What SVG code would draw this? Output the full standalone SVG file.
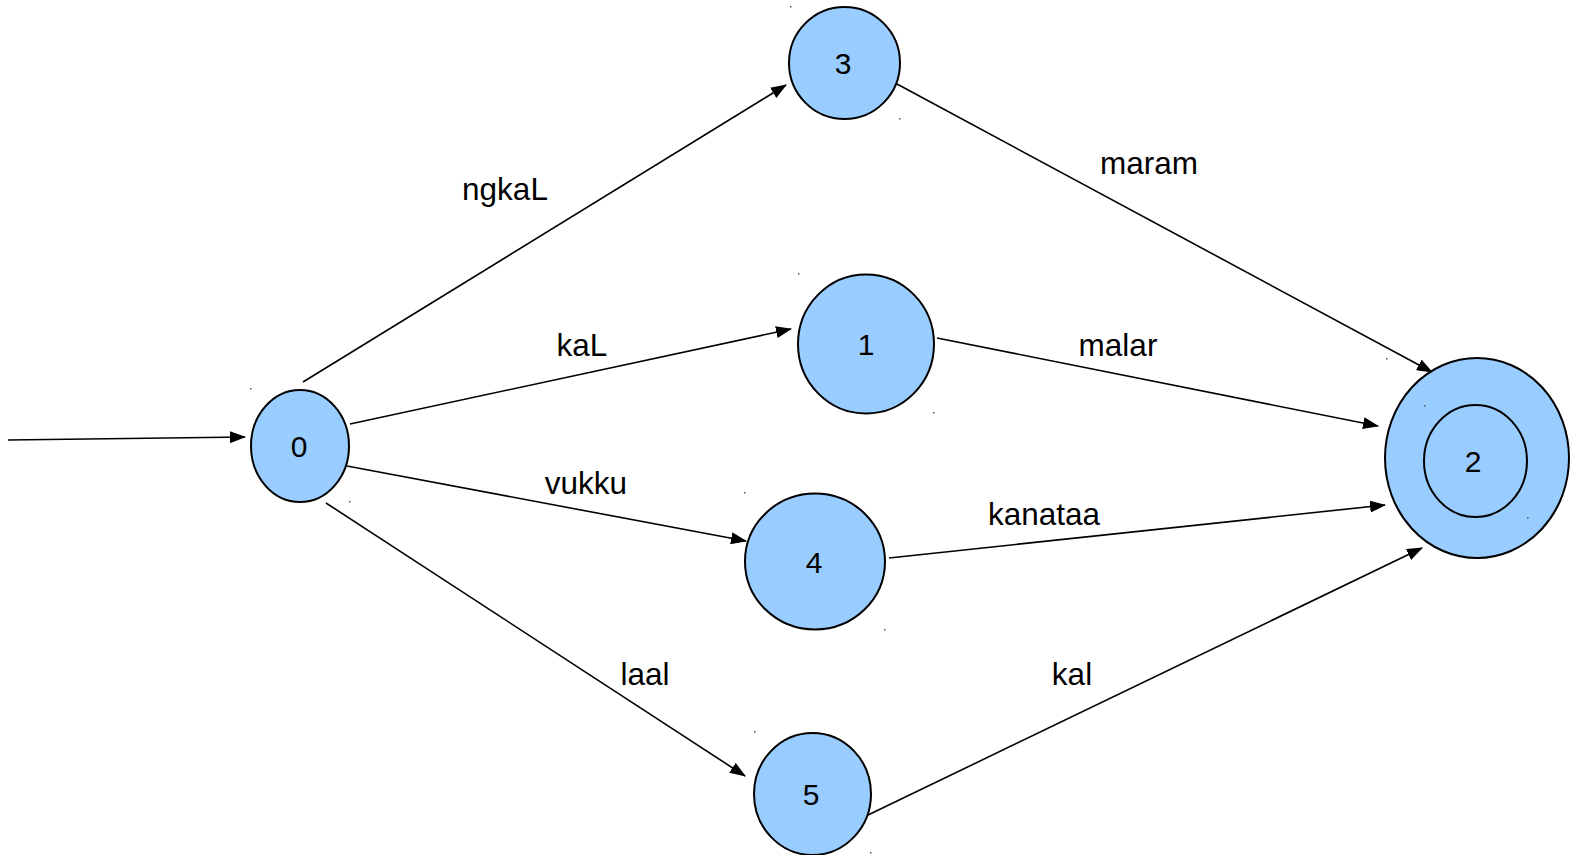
<svg xmlns="http://www.w3.org/2000/svg" width="1571" height="855" viewBox="0 0 1571 855">
<style>
.st{fill:#99ccff;stroke:#000;stroke-width:2}
.in{fill:none;stroke:#000;stroke-width:2}
.e{stroke:#000;stroke-width:1.6;fill:none;marker-end:url(#ah)}
.t{font-family:"Liberation Sans",Arial,sans-serif;font-size:30px;fill:#000;text-anchor:middle}
.l{font-size:31.5px}
.d{fill:#555}
</style>
<defs>
<marker id="ah" viewBox="0 0 16 12" refX="15" refY="6" markerWidth="16" markerHeight="12" markerUnits="userSpaceOnUse" orient="auto">
<path d="M0,0 L16,6 L0,12 Z" fill="#000"/>
</marker>
</defs>
<rect width="1571" height="855" fill="#fff"/>
<g id="connectors">
<line class="e" x1="8" y1="440" x2="245" y2="437"/>
<line class="e" x1="303" y1="382" x2="786" y2="85"/>
<line class="e" x1="350" y1="424" x2="791" y2="329"/>
<line class="e" x1="347" y1="466" x2="746" y2="541"/>
<line class="e" x1="326" y1="503" x2="745" y2="776"/>
<line class="e" x1="897" y1="84" x2="1432" y2="372"/>
<line class="e" x1="937" y1="338" x2="1378" y2="426"/>
<line class="e" x1="889" y1="558" x2="1385" y2="505"/>
<line class="e" x1="868" y1="815" x2="1422" y2="548"/>
<text class="t l" x="505" y="200">ngkaL</text>
<text class="t l" x="1149" y="174">maram</text>
<text class="t l" x="582" y="356">kaL</text>
<text class="t l" x="1118" y="356">malar</text>
<text class="t l" x="586" y="494">vukku</text>
<text class="t l" x="1044" y="525">kanataa</text>
<text class="t l" x="645" y="685">laal</text>
<text class="t l" x="1072" y="685">kal</text>
</g>
<g id="node0">
<ellipse class="st" cx="300" cy="446" rx="49" ry="56"/>
<text class="t" x="299" y="457">0</text>
<rect class="d" x="250" y="388" width="1.5" height="1.5"/><rect class="d" x="349" y="501" width="1.5" height="1.5"/>
</g>
<g id="node3">
<ellipse class="st" cx="844.5" cy="63" rx="55.5" ry="56"/>
<text class="t" x="843" y="74">3</text>
<rect class="d" x="790" y="6" width="1.5" height="1.5"/><rect class="d" x="899" y="118" width="1.5" height="1.5"/>
</g>
<g id="node1">
<ellipse class="st" cx="866" cy="344" rx="68" ry="69.5"/>
<text class="t" x="866" y="355">1</text>
<rect class="d" x="798" y="273" width="1.5" height="1.5"/><rect class="d" x="933" y="412" width="1.5" height="1.5"/>
</g>
<g id="node4">
<ellipse class="st" cx="815" cy="561.5" rx="70" ry="68"/>
<text class="t" x="814" y="573">4</text>
<rect class="d" x="744" y="492" width="1.5" height="1.5"/><rect class="d" x="884" y="629" width="1.5" height="1.5"/>
</g>
<g id="node5">
<ellipse class="st" cx="812.5" cy="794" rx="58.5" ry="61"/>
<text class="t" x="811" y="805">5</text>
<rect class="d" x="754" y="731" width="1.5" height="1.5"/><rect class="d" x="870" y="852" width="1.5" height="1.5"/>
</g>
<g id="node2">
<ellipse class="st" cx="1477" cy="458" rx="92" ry="100"/>
<ellipse class="in" cx="1475.5" cy="461" rx="51.5" ry="56"/>
<text class="t" x="1473" y="472">2</text>
<rect class="d" x="1386" y="358" width="1.5" height="1.5"/><rect class="d" x="1424" y="405" width="1.5" height="1.5"/><rect class="d" x="1527" y="517" width="1.5" height="1.5"/>
</g>
</svg>
